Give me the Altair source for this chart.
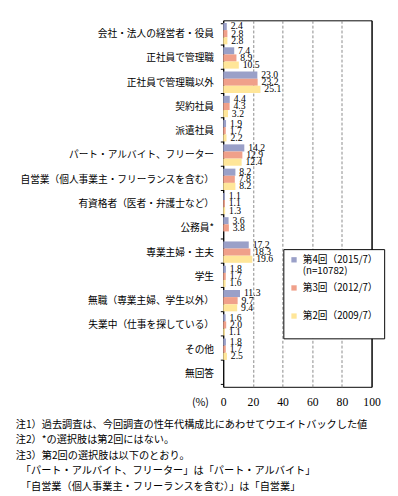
import altair as alt
import pandas as pd

categories = [
    "会社・法人の経営者・役員",
    "正社員で管理職",
    "正社員で管理職以外",
    "契約社員",
    "派遣社員",
    "パート・アルバイト、フリーター",
    "自営業（個人事業主・フリーランスを含む）",
    "有資格者（医者・弁護士など）",
    "公務員*",
    "専業主婦・主夫",
    "学生",
    "無職（専業主婦、学生以外）",
    "失業中（仕事を探している）",
    "その他",
    "無回答",
]
series_names = ["第4回（2015/7）", "第3回（2012/7）", "第2回（2009/7）"]
s4 = [2.4, 7.4, 23.0, 4.4, 1.9, 14.2, 8.2, 1.1, 3.6, 17.2, 1.8, 11.3, 1.6, 1.8, None]
s3 = [2.8, 8.9, 23.2, 4.3, 1.7, 12.9, 7.8, 1.1, 3.8, 18.3, 1.7, 9.7, 2.0, 1.7, None]
s2 = [2.8, 10.5, 25.1, 3.2, 2.2, 12.4, 8.2, 1.3, None, 19.6, 1.6, 9.4, 1.1, 2.5, None]
colors = ["#9aa0c8", "#f0a08a", "#ffe699"]
x_ticks = [0, 20, 40, 60, 80, 100]
sample_note = "(n=10782)"
ZW = "\u200b"
notes = [
    "注1）過去調査は、今回調査の性年代構成比にあわせてウエイトバックした値",
    "注2）*の選択肢は第2回にはない。",
    "注3）第2回の選択肢は以下のとおり。",
    ZW + "\u3000「パート・アルバイト、フリーター」は「パート・アルバイト」",
    ZW + "\u3000「自営業（個人事業主・フリーランスを含む）」は「自営業」",
]

rows = []
for name, vals in zip(series_names, [s4, s3, s2]):
    for c, v in zip(categories, vals):
        if v is not None:
            rows.append({"cat": c, "series": name, "value": v})
df = pd.DataFrame(rows)

FONT = "Noto Sans CJK JP"
NUMFONT = "Liberation Sans Narrow"

x_axis = alt.Axis(
    values=x_ticks,
    title="(%)",
    titleFont=FONT,
    titleFontSize=11,
    titleFontWeight="normal",
    titleX=-24,
    titleY=16,
    titleAlign="center",
    titleBaseline="middle",
    titleAngle=0,
    domain=False,
    ticks=False,
    labelPadding=10,
    labelFontSize=12,
    labelFont=NUMFONT,
    labelColor="black",
    labelFlush=False,
    labelOverlap=False,
    grid=True,
    gridColor={"condition": {"test": "datum.value == 0 || datum.value == 100", "value": "black"}, "value": "#888888"},
    gridDash={"condition": {"test": "datum.value == 0 || datum.value == 100", "value": []}, "value": [3, 2]},
)
y_axis = alt.Axis(
    title=None,
    domain=False,
    ticks=True,
    tickBand="extent",
    tickSize=3,
    tickColor="black",
    labelPadding=7,
    labelFontSize=10,
    labelFont=FONT,
    labelColor="black",
    labelLimit=300,
)

label_expr = (
    "datum.label == '第4回（2015/7）' ? ['第4回（2015/7）', '" + sample_note + "'] : "
    "[datum.label, '" + ZW + "']"
)

base = alt.Chart(df).encode(
    y=alt.Y("cat:N", sort=categories,
            scale=alt.Scale(domain=categories, paddingInner=0.12, paddingOuter=0.11),
            axis=y_axis),
    yOffset=alt.YOffset("series:N", sort=series_names, scale=alt.Scale(domain=series_names)),
    x=alt.X("value:Q", scale=alt.Scale(domain=[0, 100], nice=False), axis=x_axis),
)

bars = base.mark_bar().encode(
    color=alt.Color(
        "series:N",
        sort=series_names,
        scale=alt.Scale(domain=series_names, range=colors),
        legend=alt.Legend(
            title=None,
            orient="none",
            legendX=62,
            legendY=236,
            symbolType="square",
            symbolSize=30,
            symbolStrokeWidth=0,
            labelFont=FONT,
            labelFontSize=10,
            labelColor="black",
            rowPadding=7,
            padding=6,
            strokeColor="black",
            fillColor="white",
            labelExpr=label_expr,
        ),
    ),
)

labels = base.mark_text(
    align="left", baseline="middle", dx=4, fontSize=10, font=NUMFONT, color="black"
).encode(
    text=alt.Text("value:Q", format=".1f"),
)

chart = (
    alt.layer(bars, labels)
    .properties(
        width=153,
        height=378,
        padding={"left": 8, "top": 0, "right": 5, "bottom": 0},
        title=alt.TitleParams(
            text=notes,
            orient="bottom",
            anchor="start",
            frame="bounds",
            font=FONT,
            fontSize=10.5,
            fontWeight="normal",
            lineHeight=16,
            offset=13,
            dx=-4,
            color="black",
        ),
    )
    .configure_view(stroke="black", strokeWidth=1)
)

chart.save("out.html", embed_options={"renderer": "svg", "actions": False})
